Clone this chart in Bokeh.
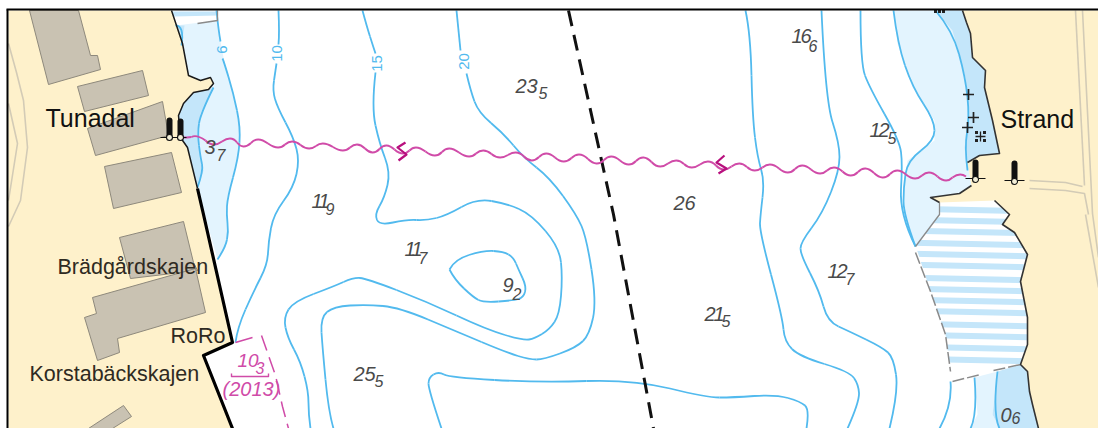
from bokeh.plotting import figure
from bokeh.embed import file_html
from bokeh.resources import INLINE
from bokeh.models import Range1d
from bokeh.core.properties import value

LAND = "#FEF1CB"; BUILD = "#C9C2B2"; BUILD_EDGE = "#8E897C"; LIGHT = "#E3F4FE"; DARK = "#C4E6FA"
BLUE = "#52BAEE"; MAG = "#D04BA8"; MAG_D = "#B8107E"; ROAD = "#D3CBB6"; GREY = "#8A8A8A"; INK = "#111111"; NUM = "#4A4A4A"

land_left = [(8,10),(171,10),(182,43),(188,75),(200,80),(210,77),(213,83),(208,89),(193,92),(183,103),(178,115),(180,137),(187,147),(197,188),(203,214),(232,342),(203,355),(232,428),(8,428)]
land_right = [(962,10),(966,22),(970,33),(972,57),(985,70),(984,87),(992,120),(999,153),(979,155),(967,162),(971,185),(959,193),(930,197),(939,202),(994,200),(1009,214),(1002,224),(1014,232),(1027,254),(1020,281),(1027,317),(1027,344),(1020,364),(1027,371),(1029,391),(1032,404),(1038,428),(1098,428),(1098,10)]
buildings = [
    [(29,10),(78,10),(90,55),(97,55),(100,69),(48,84)],
    [(77,86),(142,70),(148,95),(84,111)],
    [(87,128),(162,101),(168,135),(95,155)],
    [(104,166),(171,152),(181,192),(113,208)],
    [(119,237),(183,221),(193,262),(197,270),(130,278)],
    [(92,297),(195,268),(205,312),(117,338),(119,352),(97,360),(84,317),(96,313)],
    [(88,428),(123,405),(131,416),(112,428)],
]
rails = [
    [(8,43),(16,72),(23,100),(27,147),(20,200),(8,226)],
    [(8,103),(17,143),(8,200)],
    [(1075,10),(1084,185)],
    [(1082,10),(1092,213),(1098,257)],
    [(1085,214),(1098,287)],
    [(1029,180),(1065,182),(1082,186)],
    [(1029,188),(1065,190),(1084,193),(1088,214)],
]

water_light_left = [(175,25),(217,20),(218,30),(223,57),(233,93),(240,127),(238,157),(227,197),(226,214),(228,231),(225,247),(217,259),(197,188),(180,137),(178,115),(188,75)]
water_dark_left = [(208,89),(193,92),(183,103),(178,115),(180,137),(187,147),(197,188),(203,170),(200,157),(197,133),(200,113),(213,87)]
water_top_band = [(171,11),(217,11),(217,15),(173,16)]
water_top_wedge = [(175,25),(184,25),(181,45),(178,45)]
water_light_right = [(893,10),(897,43),(912,87),(934,120),(934,140),(907,160),(903,187),(903,214),(915,246),(939,214),(939,202),(930,197),(959,193),(971,185),(967,162),(979,155),(965,60),(962,10)]
water_dark_right = [(935,10),(952,30),(965,77),(969,117),(964,147),(967,170),(979,155),(999,153),(992,120),(984,87),(985,70),(972,57),(970,33),(966,22),(962,10)]
water_light_bottom = [(974,377),(997,371),(992,414),(999,428),(970,428),(977,414)]
water_dark_bottom = [(997,371),(1020,364),(1027,371),(1029,391),(1032,404),(1038,428),(999,428),(992,414)]
stripe_y = [208,219,230,242,253,264,277,288,299,310,323,334,346,358]
stripe_mask = [(939,202),(915,247),(917,251),(930,291),(945,334),(950,371),(952,381),(1021,364),(1040,428),(800,428),(800,190)]

contours = [
    [(216,10),(218,30),(220,41)],
    [(222,58),(223,60),(233,93),(240,127),(238,157),(227,197),(226,214),(228,231),(225,247),(217,259)],
    [(278,10),(279,33),(278,44)],
    [(276,63),(275,70),(272,90),(277,107),(293,137),(299,160),(293,187),(273,214),(268,241),(267,264),(253,291),(237,327),(235,342)],
    [(362,10),(366,25),(373,47),(375,53)],
    [(375,72),(371,107),(379,143),(390,172),(384,197),(374,214),(379,225),(406,219),(426,220),(446,215),(476,198),(506,203),(531,214),(559,247),(562,277),(559,314),(549,329),(534,338),(523,340),(486,329),(426,301),(366,278),(353,277),(333,286),(293,301),(283,317),(287,337),(300,361),(308,391),(308,414),(310,428)],
    [(456,10),(460,50)],
    [(466,73),(470,90),(478,112),(503,133),(523,157),(549,177),(576,214),(586,237),(596,301),(589,334),(576,347),(543,359),(529,359),(506,352),(456,331),(399,307),(366,304),(333,306),(320,317),(322,347),(328,411),(333,428)],
    [(449,269),(454,259),(483,250),(503,251),(513,257),(518,269),(526,286),(523,297),(513,300),(483,302),(473,297),(454,279),(449,269)],
    [(441,428),(428,389),(428,377),(438,371),(449,377),(539,382),(633,379),(706,397),(732,397),(775,394),(800,401),(809,409),(806,428)],
    [(745,10),(750,33),(752,117),(757,157),(764,180),(760,214),(759,231),(782,317),(784,341),(799,356),(849,371),(858,384),(859,401),(847,428)],
    [(821,10),(825,100),(839,143),(839,170),(822,213),(800,242),(800,254),(819,291),(827,321),(849,331),(882,347),(893,357),(898,391),(889,428)],
    [(860,10),(860,63),(869,87),(899,140),(902,163),(899,214),(915,246)],
    [(893,10),(897,43),(912,87),(934,120),(934,140),(907,160),(903,187),(903,214),(915,246)],
    [(935,10),(952,30),(965,77),(969,117),(964,147),(967,170)],
    [(197,187),(203,170),(200,157),(197,133),(200,113),(213,87)],
    [(974,377),(977,414),(970,428)],
    [(997,371),(992,414),(999,428)],
    [(950,381),(952,404),(939,428)],
    [(175,25),(184,25),(181,45)],
]
contour_labels = ["6","10","15","20"]
contour_label_x = [221,276,376,463]
contour_label_y = [49,53,63,61]

route = [(176,137),(185,137),(197,136),(213,144),(230,138),(243,146),(258,139),(277,147),(292,141),(308,148),(323,143),(342,150),(357,144),(372,152),(386,145),(402,153),(416,147),(434,155),(449,148),(468,156),(483,150),(499,157),(516,152),(531,160),(546,153),(563,161),(579,154),(596,163),(611,156),(628,164),(643,157),(659,166),(676,160),(691,167),(708,161),(723,169),(739,163),(754,170),(770,164),(787,172),(802,165),(819,173),(834,167),(850,175),(865,168),(882,177),(897,170),(914,178),(929,172),(945,180),(959,174),(972,178)]
route_arrows = [[(405,142),(397,147),(406,154),(398,160)],[(724,155),(716,162),(726,168),(718,173)]]
fairway = [(568,10),(613,214),(653,428)]
mag_dash = [(235,342),(252,337)]
mag_dash2 = [(261,335),(275,375),(282,406),(288,428)]
mag_bracket = [(231,373),(231,376),(268,376),(268,373)]
grey_dash = [[(915,252),(930,291),(945,334),(950,371)],[(952,381),(980,374)],[(993,370),(1020,364)]]
grey_solid = [[(915,246),(939,214),(939,202)],[(197,23),(217,20),(217,10)]]
coast_thin = [(171,10),(182,43),(188,75),(200,80),(210,77),(213,83),(208,89),(193,92),(183,103),(178,115),(180,137),(187,147),(197,188)]
coast_thick = [(197,188),(203,214),(232,342),(203,355),(232,428)]
coast_right = [[(962,10),(966,22),(970,33),(972,57),(985,70),(984,87),(992,120),(999,153),(979,155),(967,162)],
               [(971,185),(959,193),(930,197),(939,202)],
               [(994,200),(1009,214),(1002,224),(1014,232),(1027,254),(1020,281),(1027,317),(1027,344),(1020,364),(1027,371),(1029,391),(1032,404),(1038,428)]]

beacon_x = [169,180,975,1014]
beacon_top = [120,121,162,163]
beacon_bottom = [135,135,178,178]
beacon_base_y = [137,137,179,181]
beacon_rules = [[(160,137),(186,137)],[(965,178),(985,178)],[(1004,180),(1024,180)]]
cross_x = [968,973,967]
cross_y = [94,117,127]
rock_x = [980]
rock_y = [136]
top_dots_x = [935,939,943]
top_dots_y = [11,11,11]

place_names = ["Tunadal","Strand","Brädgårdskajen","RoRo","Korstabäckskajen"]
place_x = [45,1000,57,170,29]
place_y = [127,128,275,344,382]
place_size = [25,25,21.5,21.5,21.5]

depth_main = ["3","11","16","23","26","12","11","9","21","25","12","0"]
depth_sub = ["7","9","6","5","","5","7","2","5","5","7","6"]
depth_x = [204,313,793,515,673,871,406,502,704,353,829,1000]
depth_y = [154,208,43,93,210,137,256,292,321,381,278,422]
sub_x = [216,325,808,538,0,887,418,512,721,374,845,1011]
sub_y = [161,215,52,99,0,144,264,300,327,387,285,424]

survey_text = ["10","3","(2013)"]
survey_x = [237,255,222]
survey_y = [368,374,396]
survey_size = [19,16,20]

p = figure(width=1098, height=428, x_range=Range1d(0,1098), y_range=Range1d(428,0),
           output_backend="svg", toolbar_location=None, min_border=0, outline_line_color=None,
           background_fill_color="white", border_fill_color="white")
p.axis.visible = False
p.grid.visible = False

def xs(pts): return [a for a,_ in pts]
def ys(pts): return [b for _,b in pts]
def poly(pts, color, **kw): p.patch(xs(pts), ys(pts), fill_color=color, line_color=kw.get("line_color", None), line_width=kw.get("line_width", 1))
def line(pts, color, w, dash="solid"): p.line(xs(pts), ys(pts), line_color=color, line_width=w, line_dash=dash, line_join="round")
def smooth(pts, color, w):
    if len(pts) < 3:
        line(pts, color, w)
        return
    mx = [(pts[i][0]+pts[i+1][0])/2 for i in range(len(pts)-1)]
    my = [(pts[i][1]+pts[i+1][1])/2 for i in range(len(pts)-1)]
    x1 = mx[1:-1] + [pts[-1][0]]
    y1 = my[1:-1] + [pts[-1][1]]
    x0 = [pts[0][0]] + mx[1:-1]
    y0 = [pts[0][1]] + my[1:-1]
    p.quadratic(x0=x0, y0=y0, x1=x1, y1=y1, cx=xs(pts)[1:-1], cy=ys(pts)[1:-1], line_color=color, line_width=w)

# striped zone, then its mask
p.multi_line([[900,1040] for _ in stripe_y], [[y,y+3] for y in stripe_y], line_color=DARK, line_width=6)
poly(stripe_mask, "white")
for w, c in [(water_top_band, DARK),(water_light_left, LIGHT),(water_dark_left, DARK),(water_top_wedge, DARK),
             (water_light_right, LIGHT),(water_dark_right, DARK),(water_light_bottom, LIGHT),(water_dark_bottom, DARK)]:
    poly(w, c)
poly(land_left, LAND)
poly(land_right, LAND)
for r in rails:
    line(r, ROAD, 1.6)
for b in buildings:
    poly(b, BUILD, line_color=BUILD_EDGE, line_width=1)
for c in contours:
    smooth(c, BLUE, 1.8)
p.text(contour_label_x, contour_label_y, text=contour_labels, angle=1.5708, text_color=BLUE, text_align="center",
       text_baseline="middle", text_font=value("Liberation Sans"), text_font_size=value("15px"))
for g in grey_dash:
    line(g, GREY, 1.5, "12 3")
for g in grey_solid:
    line(g, GREY, 1.3)
line(coast_thin, "#1A1A1A", 1.5)
line(coast_thick, "#000000", 3.2)
for c in coast_right:
    line(c, "#333333", 1.6)

# fairway
line(fairway, "#111111", 3, "16 9")

# route: peaks and troughs joined by quadratic curves
mx = [(route[i][0]+route[i+1][0])/2 for i in range(len(route)-1)]
my = [(route[i][1]+route[i+1][1])/2 for i in range(len(route)-1)]
cx = [2*route[i+1][0]-(mx[i]+mx[i+1])/2 for i in range(len(mx)-1)]
cy = [2*route[i+1][1]-(my[i]+my[i+1])/2 for i in range(len(my)-1)]
p.quadratic(x0=mx[:-1], y0=my[:-1], x1=mx[1:], y1=my[1:], cx=cx, cy=cy, line_color=MAG, line_width=1.9)
for a in route_arrows:
    line(a, MAG_D, 2.2)

line(mag_dash, MAG, 1.5)
line(mag_dash2, MAG, 1.5, "16 7")
line(mag_bracket, MAG, 1.4)

# beacons
p.multi_line([xs(r) for r in beacon_rules], [ys(r) for r in beacon_rules], line_color=INK, line_width=1.2)
p.segment(beacon_x, beacon_top, beacon_x, beacon_bottom, line_color=INK, line_width=6, line_cap="round")
p.scatter(beacon_x, beacon_base_y, size=6, marker="circle", fill_color="#F3EFD8", line_color=INK, line_width=1.1)
p.scatter(cross_x, cross_y, size=11, marker="cross", line_color="#222222", line_width=1.7)
p.scatter(rock_x, rock_y, size=10, marker="cross", line_color="#222222", line_width=1.3)
for dx, dy in [(-4,-4),(4,-4),(-4,4),(4,4)]:
    p.scatter([x+dx for x in rock_x], [y+dy for y in rock_y], size=3, marker="square", fill_color="#222222", line_color=None)
p.scatter(top_dots_x, top_dots_y, size=3, marker="square", fill_color="#222222", line_color=None)

# texts: lifted by a share of the size so the baselines land where they were read
LIFT = 0.4
for t, x, y, s in zip(place_names, place_x, place_y, place_size):
    p.text([x],[y-LIFT*s],text=[t],text_color=INK if s==25 else "#2E2A22",text_font=value("Liberation Sans"),
           text_font_size=value(f"{s}px"),text_baseline="alphabetic")
def it(x,y,t,c,s):
    p.text([x],[y-LIFT*s],text=[t],text_color=c,text_font=value("Liberation Sans"),text_font_style="italic",
           text_font_size=value(f"{s}px"),text_baseline="alphabetic")
for m, x, y in zip(depth_main, depth_x, depth_y):
    cur = x
    for i, ch in enumerate(m):
        # the chart's figure 1 is set narrower than other digits
        it(cur - (2 if ch == "1" else 0), y, ch, NUM, 20)
        cur += 7 if ch == "1" else 11
for m, x, y in zip(depth_sub, sub_x, sub_y):
    if m:
        it(x,y,m,NUM,16)
for t, x, y, s in zip(survey_text, survey_x, survey_y, survey_size):
    it(x,y,t,MAG,s)

# frame
p.line([6,1098],[9,9],line_color="black",line_width=2)
p.line([7,7],[9,428],line_color="black",line_width=2)

open("out.html","w").write(file_html(p, INLINE))
